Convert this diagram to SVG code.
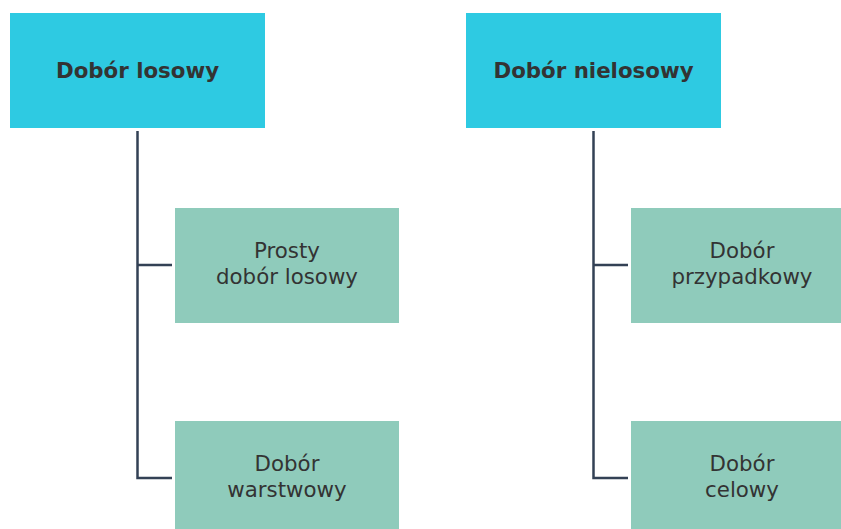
<svg xmlns="http://www.w3.org/2000/svg" width="841" height="529" viewBox="0 0 841 529">
<style>
.main{fill:#2ECAE2}
.sub{fill:#8FCBBB}
.t{font-family:"DejaVu Sans",sans-serif;font-size:21.33px;fill:#333333;text-anchor:middle}
.b{font-weight:bold}
.c{fill:none;stroke:#334155;stroke-width:2.5}
</style>
<rect width="841" height="529" fill="#ffffff"/>
<g id="connectors">
<path class="c" d="M137.5 131 V478 H172 M137.5 265 H172"/>
<path class="c" d="M593.5 131 V478 H628 M593.5 265 H628"/>
</g>
<g id="n1"><rect class="main" x="10" y="13" width="255" height="115"/><text class="t b" x="137.5" y="77.5">Dobór losowy</text></g>
<g id="n2"><rect class="main" x="466" y="13" width="255" height="115"/><text class="t b" x="593.5" y="77.5">Dobór nielosowy</text></g>
<g id="n3"><rect class="sub" x="175" y="208" width="224" height="115"/><text class="t" x="287" y="257.5">Prosty</text><text class="t" x="287" y="284">dobór losowy</text></g>
<g id="n4"><rect class="sub" x="175" y="421" width="224" height="115"/><text class="t" x="287" y="470.5">Dobór</text><text class="t" x="287" y="497">warstwowy</text></g>
<g id="n5"><rect class="sub" x="631" y="208" width="224" height="115"/><text class="t" x="742" y="257.5">Dobór</text><text class="t" x="742" y="284">przypadkowy</text></g>
<g id="n6"><rect class="sub" x="631" y="421" width="224" height="115"/><text class="t" x="742" y="470.5">Dobór</text><text class="t" x="742" y="497">celowy</text></g>
</svg>
